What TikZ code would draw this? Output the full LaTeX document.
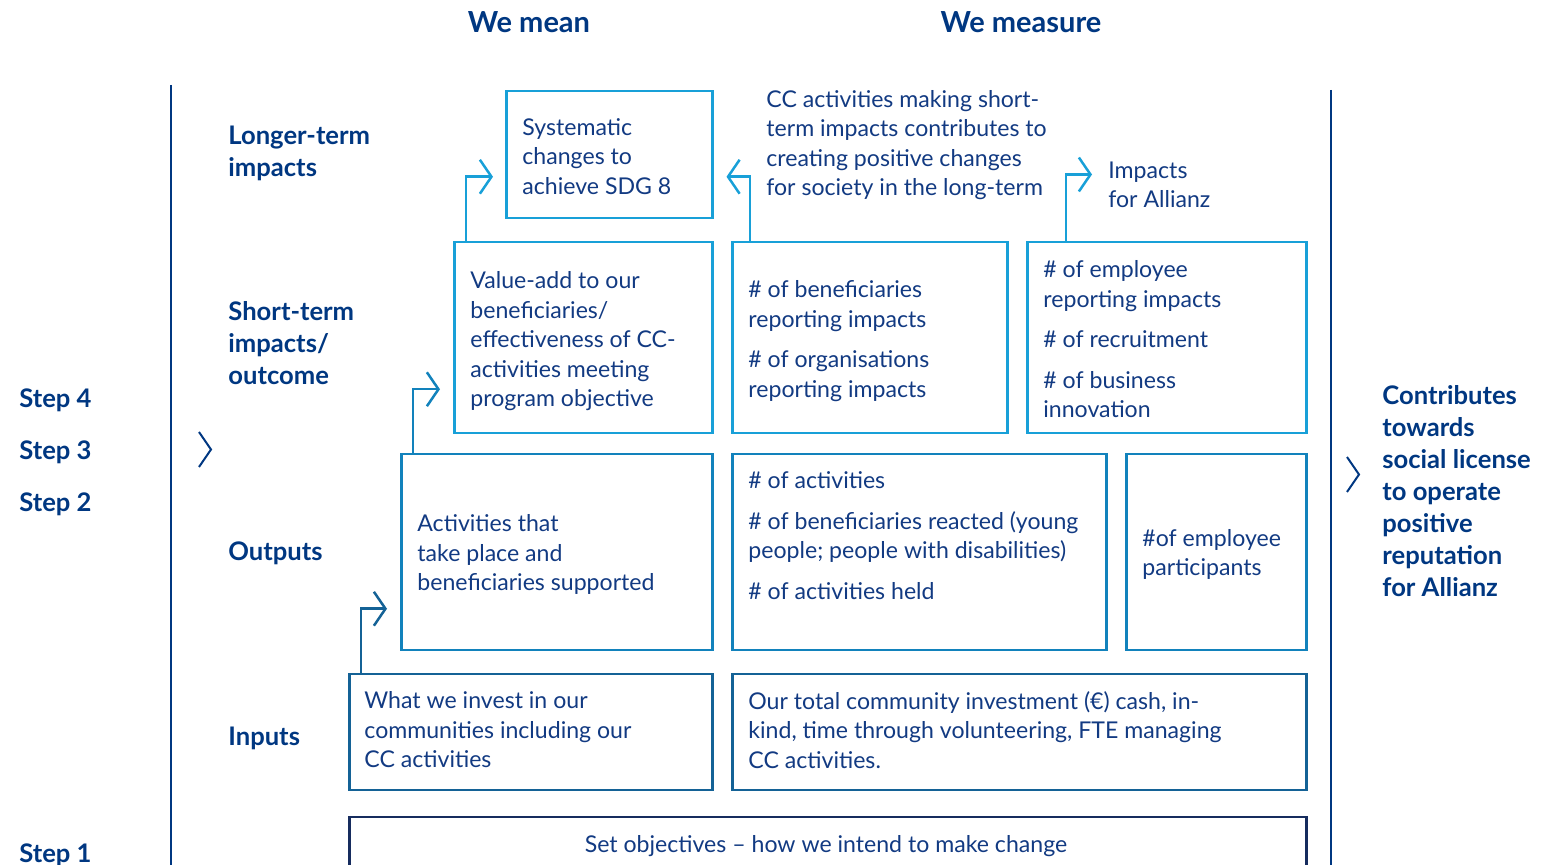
\documentclass[tikz,border=0pt]{standalone}
\usepackage{fontspec}
\setmainfont{Lato}
\usetikzlibrary{arrows.meta}
\definecolor{cNavy}{RGB}{0,55,129}
\definecolor{cText}{RGB}{18,58,130}
\definecolor{cLight}{RGB}{24,160,216}
\definecolor{cMid}{RGB}{18,130,188}
\definecolor{cDark}{RGB}{20,98,150}
\definecolor{cObj}{RGB}{22,44,94}
\begin{document}
\begin{tikzpicture}[x=0.5pt,y=-0.5pt,
  box/.style={draw=cLight, line width=1.25pt, inner sep=0, anchor=north west, rectangle},
  txt/.style={anchor=west, align=left, inner sep=0, text=cText, font=\fontsize{11.55}{14.75}\selectfont, execute at begin node=\strut, execute at end node=\strut},
  lbl/.style={anchor=west, align=left, inner sep=0, text=cNavy, font=\fontsize{12.8}{16}\selectfont\bfseries, execute at begin node=\strut, execute at end node=\strut},
  head/.style={text=cNavy, font=\fontsize{14.5}{17}\selectfont\bfseries, inner sep=0},
  conn/.style={line width=1.25pt, -{Straight Barb[length=5.8pt,width=17pt]}},
  rule/.style={draw=cNavy, line width=1.25pt},
  chev/.style={draw=cNavy, line width=1pt}]
\useasboundingbox (0,0) rectangle (1560,865);
\clip (0,0) rectangle (1560,865);

% headings
\node[head] (hmean) at (529,22) {We mean};
\node[head] (hmeas) at (1021,22) {We measure};

% frame rules and chevrons
\draw[rule] (171,85) -- (171,865);
\draw[rule] (1331,90) -- (1331,865);
\draw[chev] (199,432) -- (211,449.5) -- (199,467);
\draw[chev] (1347,457) -- (1359,474.5) -- (1347,492);

% steps
\node[lbl] (s4) at (19,401) {Step 4};
\node[lbl] (s3) at (19,453) {Step 3};
\node[lbl] (s2) at (19,505) {Step 2};
\node[lbl] (s1) at (19,856) {Step 1};

% row labels
\node[lbl] (l1) at (228,156) {Longer-term\\impacts};
\node[lbl] (l2) at (228,348) {Short-term\\impacts/\\outcome};
\node[lbl] (l3) at (228,554) {Outputs};
\node[lbl] (l4) at (228,739) {Inputs};

\node[lbl] (contrib) at (1382,496) {Contributes\\towards\\social license\\to operate\\positive\\reputation\\for Allianz};

% boxes
\node[box, minimum width=103pt, minimum height=63.5pt] (sys) at (505,90) {};
\node[box, minimum width=129pt, minimum height=95.5pt] (val) at (453,241) {};
\node[box, minimum width=137.5pt, minimum height=95.5pt] (ben) at (731,241) {};
\node[box, minimum width=139.5pt, minimum height=95.5pt] (emp) at (1026,241) {};
\node[box, draw=cMid, minimum width=155.5pt, minimum height=98pt] (act) at (400,453) {};
\node[box, draw=cMid, minimum width=187pt, minimum height=98pt] (nact) at (731,453) {};
\node[box, draw=cMid, minimum width=90pt, minimum height=98pt] (part) at (1125,453) {};
\node[box, draw=cDark, minimum width=181.5pt, minimum height=58pt] (inv) at (348,673) {};
\node[box, draw=cDark, minimum width=287pt, minimum height=58pt] (tot) at (731,673) {};
\node[box, draw=cObj, minimum width=478.5pt, minimum height=50pt] (obj) at (348,816) {};

% texts
\node[txt] (sysT) at (522,160.5) {Systematic\\changes to\\achieve SDG 8};
\node[txt] (valT) at (470,343.5) {Value-add to our\\beneficiaries/\\effectiveness of CC-\\activities meeting\\program objective};
\node[txt] (benT) at (748,343.5) {\# of beneficiaries\\reporting impacts\\[5.5pt]\# of organisations\\reporting impacts};
\node[txt] (empT) at (1043,343.5) {\# of employee\\reporting impacts\\[5.5pt]\# of recruitment\\[5.5pt]\# of business\\innovation};
\node[txt] (actT) at (417,557) {Activities that\\take place and\\beneficiaries supported};
\node[txt] (nactT) at (748,540) {\# of activities\\[5.5pt]\# of beneficiaries reacted (young\\people; people with disabilities)\\[5.5pt]\# of activities held};
\node[txt] (partT) at (1142,557) {\#of employee\\participants};
\node[txt] (invT) at (364,734) {What we invest in our\\communities including our\\CC activities};
\node[txt] (totT) at (748,734) {Our total community investment (€) cash, in-\\kind, time through volunteering, FTE managing\\CC activities.};
\node[txt, anchor=center] (objT) at (826,847) {Set objectives – how we intend to make change};
\node[txt] (ccT) at (766,147.5) {CC activities making short-\\term impacts contributes to\\creating positive changes\\for society in the long-term};
\node[txt] (impT) at (1108,189) {Impacts\\for Allianz};

% connectors
\draw[conn, cLight] ([xshift=6.5pt]val.north west) |- ([xshift=-6pt,yshift=-11pt]sys.west);
\draw[conn, cLight] ([xshift=9.5pt]ben.north west) |- ([xshift=6.5pt,yshift=-11pt]sys.east);
\draw[conn, cLight] ([xshift=20pt]emp.north west) |- ([xshift=-8pt,yshift=7.25pt]impT.west);
\draw[conn, cMid] ([xshift=6.5pt]act.north west) |- ([xshift=-6.5pt,yshift=-25.75pt]val.west);
\draw[conn, cDark] ([xshift=6.5pt]inv.north west) |- ([xshift=-6.5pt,yshift=-28.25pt]act.west);
\end{tikzpicture}
\end{document}
